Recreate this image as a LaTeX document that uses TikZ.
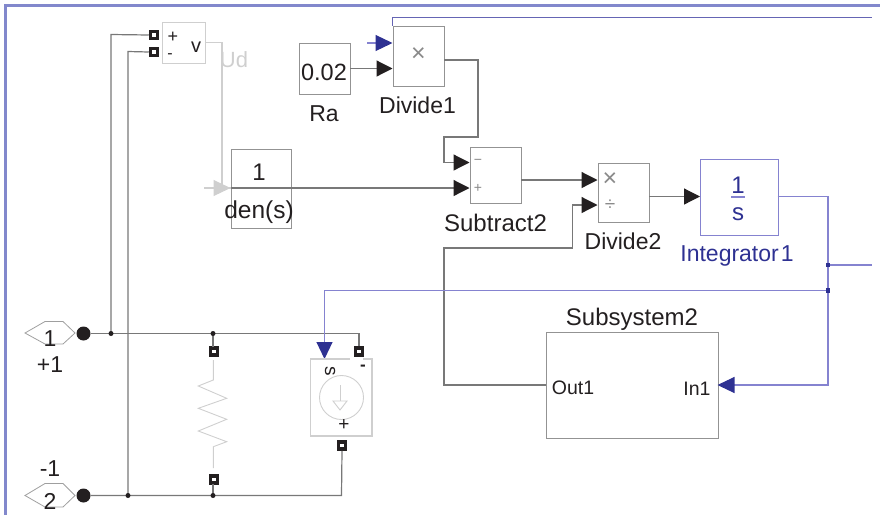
\documentclass[tikz,border=0pt]{standalone}
\usepackage{fontspec}
\setmainfont{Liberation Sans}
\usetikzlibrary{arrows.meta,shapes.geometric}
\definecolor{frameblue}{HTML}{8288CC}
\definecolor{sigblue}{HTML}{8583D0}
\definecolor{topblue}{HTML}{6565B4}
\definecolor{darkblue}{HTML}{2E3192}
\definecolor{ink}{HTML}{231F20}
\definecolor{wire}{HTML}{787878}
\definecolor{lite}{HTML}{CFCFCF}
\definecolor{opgray}{HTML}{8A8A8A}
\newcommand{\fs}[1]{\fontsize{#1}{#1}\selectfont}
\tikzset{
  blockbox/.style={draw=#1,line width=1.1pt,fill=white,inner sep=0pt,anchor=north west},
  blockbox/.default=gray!85,
  lbl/.style={inner sep=0pt,text=ink,font=\fs{23}},
  small/.style={inner sep=0pt,text=ink,font=\fs{19.5}},
  wireline/.style={draw=wire,line width=1.2pt},
  bluewire/.style={draw=sigblue,line width=1.1pt},
  liteline/.style={draw=lite,line width=1.1pt},
  arr/.style={-{Triangle[length=16pt,width=16pt,color=ink,fill=ink]}},
  barr/.style={-{Triangle[length=17pt,width=16pt,color=darkblue,fill=darkblue]}},
  garr/.style={-{Triangle[length=17pt,width=16pt,color=lite,fill=lite]}},
  termsq/.style={draw=ink,fill=white,line width=3.5pt,minimum size=7pt,inner sep=0pt,shape=rectangle},
  jd/.style={circle,fill=ink,minimum size=5pt,inner sep=0pt},
  jb/.style={rectangle,fill=darkblue,minimum size=4.5pt,inner sep=0pt},
  bigdot/.style={circle,fill=ink,minimum size=14pt,inner sep=0pt},
  hexport/.style={draw=gray!75,line width=.8pt},
}
\begin{document}
\begin{tikzpicture}[x=1pt,y=-1pt]
\useasboundingbox (0,0) rectangle (880,515);
% frame
\draw[frameblue,line width=3pt] (880,5.7) -- (5.7,5.7) -- (5.7,515);

% blocks
\node[blockbox=lite,minimum width=43pt,minimum height=41pt] (vm) at (162,22) {};
\node[blockbox,minimum width=60pt,minimum height=79pt] (tf) at (230.5,149) {};
\node[blockbox,minimum width=51.5pt,minimum height=51pt] (ra) at (298.5,43) {};
\node[blockbox,minimum width=51.5pt,minimum height=60pt] (div1) at (392.5,25.5) {};
\node[blockbox,minimum width=51.5pt,minimum height=56pt] (sub2) at (469.5,147) {};
\node[blockbox,minimum width=51.5pt,minimum height=59.5pt] (div2) at (597.5,162.5) {};
\node[blockbox=sigblue,minimum width=77.5pt,minimum height=75.5pt] (intg) at (700,159) {};
\node[blockbox,minimum width=171.5pt,minimum height=106pt] (subs) at (546,331.5) {};

% named points
\coordinate (j1a) at (111,333.5);
\coordinate (j1b) at (213,333.5);
\coordinate (j2a) at (128,495.5);
\coordinate (j2b) at (213,495.5);
\coordinate (vmout) at (205,42.5);
\coordinate (tfin) at (230.5,188);
\coordinate (sub2p) at (469.5,188);
\coordinate (sub2m) at (469.5,162.5);
\coordinate (sub2o) at (521,180);
\coordinate (div2a) at (597.5,180);
\coordinate (div2b) at (597.5,205);
\coordinate (div2o) at (649,196.5);
\coordinate (intin) at (700,196.5);
\coordinate (into) at (777.5,196.5);
\coordinate (ra-o) at (350,68.5);
\coordinate (div1b) at (392.5,68.5);
\coordinate (div1a) at (392.5,43);
\coordinate (div1free) at (367,43);
\coordinate (div1o) at (444,60);
\coordinate (out1) at (546,385);
\coordinate (in1) at (717.5,385);
\coordinate (bj1) at (828,265);
\coordinate (bj2) at (828,290.5);
\coordinate (rightend1) at (872,265);
\coordinate (rightend2) at (872,17.5);
\coordinate (csin) at (324.5,359);
\coordinate (tffree) at (204,188);
\coordinate (rt) at (213.3,360);
\coordinate (rb) at (213.3,468);

% terminals
\node[termsq] (tp) at (154,35) {};
\node[termsq] (tm) at (154,52) {};
\node[termsq] (rp) at (214,351.5) {};
\node[termsq] (rm) at (214,479.5) {};
\node[termsq] (cm) at (359,351.5) {};
\node[termsq] (cp) at (342,445.5) {};

% ports
\node[bigdot] (p1) at (83.5,333.5) {};
\node[bigdot] (p2) at (83.5,495.5) {};
\draw[hexport] (25,333) -- (45,321.5) -- (63,321.5) -- (75,333) -- (63,344) -- (45,344) -- cycle;
\draw[hexport] (25,495.5) -- (45,483.5) -- (63,483.5) -- (75,495.5) -- (63,507) -- (45,507) -- cycle;
\node[lbl] (n1) at (50,339) {1};
\node[lbl] (np1) at (50,365) {+1};
\node[lbl] (nm1) at (50,469) {-1};
\node[lbl] (n2) at (50,501) {2};

% black wires
\draw[wireline] (j1a) -- (111,34.5) -- (tp.west);
\draw[wireline] (j2a) -- (128,51.5) -- (tm.west);
\draw[wireline] (p1.east) -- (359,333.5) -- (cm.north);
\draw[wireline] (j1b) -- (213,347);
\draw[wireline] (p2.east) -- (341.5,495.5) -- (cp.south);
\draw[wireline] (j2b) -- (213,484);
\draw[wireline,arr] (tfin) -- (sub2p);
\draw[wireline,arr] (ra-o) -- (div1b);
\draw[wireline,arr] (div1o) -- (478,60) -- (478,137) -- (444,137) -- (444,162.5) -- (sub2m);
\draw[wireline,arr] (sub2o) -- (div2a);
\draw[wireline,arr] (div2o) -- (intin);
\draw[wireline,arr] (out1) -- (444,385) -- (444,248) -- (572.5,248) -- (572.5,205) -- (div2b);
\node[jd] at (j1a) {};
\node[jd] at (j1b) {};
\node[jd] at (j2a) {};
\node[jd] at (j2b) {};

% grey signal
\draw[liteline,garr] (vmout) -- (222,42.5) -- (222,188) -- (tfin);
\draw[liteline] (tffree) -- (tfin);

% blue wires
\draw[topblue,line width=1.1pt] (392.5,25.5) -- (392.5,17.5) -- (rightend2);
\draw[bluewire,barr] (div1free) -- (div1a);
\draw[bluewire,barr] (into) -- (828,196.5) -- (828,385) -- (in1);
\draw[bluewire] (bj1) -- (rightend1);
\draw[bluewire,barr] (bj2) -- (324.5,290.5) -- (csin);
\node[jb] at (bj1) {};
\node[jb] at (bj2) {};

% resistor
\draw[draw=lite,line width=.9pt] (rt) -- (213.3,380) -- (198.3,386) -- (226.7,398.3) -- (198.3,408.3) -- (226.7,419.3) -- (198.3,431) -- (226.7,441.7) -- (213.3,446.7) -- (rb);

% current source
\draw[liteline] (350,359) -- (310.5,359) -- (310.5,436) -- (372,436) -- (372,359) -- (363,359);
\node[draw=lite,line width=.9pt,circle,minimum size=44pt,inner sep=0pt] (csc) at (341.5,397.5) {};
\draw[lite,line width=.9pt] (340,385) -- (340,401);
\draw[lite,line width=.9pt] (333,401) -- (347,401) -- (340,410) -- cycle;
\node[small,font=\fs{19}] (cs) at (330,371) {\rotatebox{-90}{s}};
\node[small,font=\bfseries\fs{17}] (csm) at (363,367.5) {-};
\node[small,font=\fs{19}] (csp) at (344,425) {+};

% block texts
\node[small,font=\fs{18}] (vmp) at (173,37) {+};
\node[small,font=\fs{16}] (vmm) at (170,56) {-};
\node[small,font=\fs{20}] (vmv) at (196,47.5) {v};
\node[lbl,text=lite,font=\fs{22}] (ud) at (234,60) {Ud};
\node[lbl,font=\fs{24}] (tf1) at (259,172.5) {1};
\node[lbl,font=\fs{24.5}] (tfd) at (259,212) {den(s)};
\node[lbl,font=\fs{23.5}] (rav) at (324,72) {0.02};
\node[lbl] (ral) at (324,114) {Ra};
\node[lbl,text=opgray,font=\fs{25}] (d1x) at (418.5,55) {×};
\node[lbl] (d1l) at (417.5,105) {Divide1};
\node[lbl,text=opgray,font=\fs{14}] (s2m) at (478,162) {−};
\node[lbl,text=opgray,font=\fs{14}] (s2p) at (478,188) {+};
\node[lbl,font=\fs{24}] (s2l) at (495.5,223) {Subtract2};
\node[lbl,text=opgray,font=\fs{25}] (d2x) at (610,180) {×};
\node[lbl,text=opgray,font=\fs{19}] (d2d) at (610,205.5) {÷};
\node[lbl] (d2l) at (623,241) {Divide2};
\node[lbl,text=darkblue,font=\fs{24}] (i1) at (738,185) {1};
\draw[sigblue,line width=1.1pt] (731,197) -- (745,197);
\node[lbl,text=darkblue,font=\fs{24}] (is) at (738,214) {s};
\node[lbl,text=darkblue] (il) at (737,256) {Integrator\kern2pt 1};
\node[lbl,font=\fs{24}] (sl) at (632,319) {Subsystem2};
\node[small] (ot) at (573,388) {Out1};
\node[small] (it) at (697,389) {In1};
\end{tikzpicture}
\end{document}
